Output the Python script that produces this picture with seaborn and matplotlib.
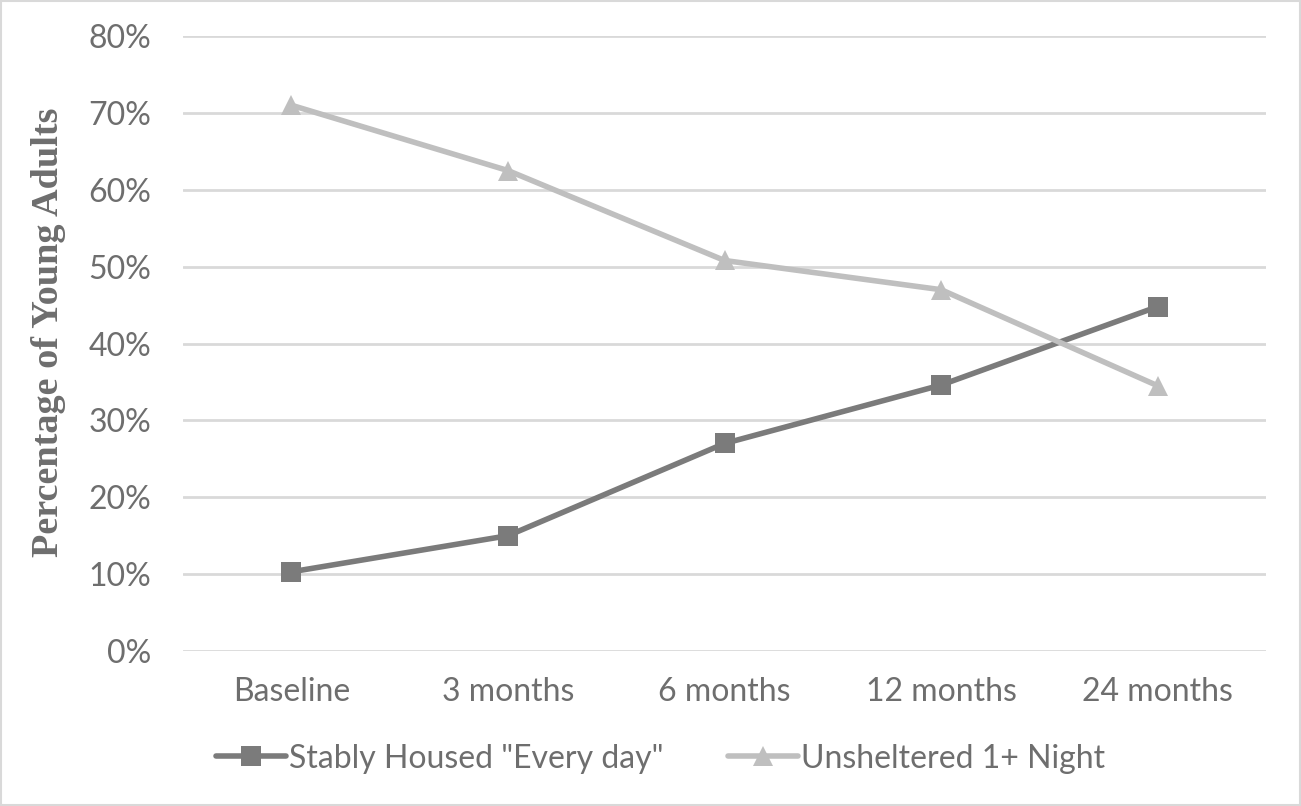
import matplotlib
matplotlib.use("Agg")
import matplotlib.pyplot as plt
import seaborn as sns
import pandas as pd
from matplotlib.patches import Rectangle
from matplotlib.ticker import FuncFormatter

categories = ["Baseline", "3 months", "6 months", "12 months", "24 months"]
stably_housed = [10.3, 15.0, 27.0, 34.6, 44.8]
unsheltered = [71.0, 62.5, 50.8, 47.0, 34.5]
series_names = ['Stably Housed "Every day"', "Unsheltered 1+ Night"]
y_ticks = [0, 10, 20, 30, 40, 50, 60, 70, 80]

sns.set_theme(style="white")
plt.rcParams["font.family"] = ["Lato", "DejaVu Sans"]

df = pd.DataFrame({
    "time": categories * 2,
    "pct": stably_housed + unsheltered,
    "series": [series_names[0]] * 5 + [series_names[1]] * 5,
})
df["x"] = list(range(5)) * 2

fig = plt.figure(figsize=(13.01, 8.06), dpi=100)
ax = fig.add_axes([0.1407, 0.1923, 0.8324, 0.7630])

text_color = "#6e6e6e"
sns.lineplot(data=df, x="x", y="pct", hue="series", style="series",
             palette=["#7b7b7b", "#bfbfbf"], markers=["s", "^"], dashes=False,
             linewidth=4.0, markersize=15, markeredgewidth=0, ax=ax, sort=False)

ax.set_xlim(-0.5, 4.5)
ax.set_ylim(0, 80)
ax.set_yticks(y_ticks)
ax.yaxis.set_major_formatter(FuncFormatter(lambda v, p: f"{int(v)}%"))
ax.set_xticks(range(5))
ax.set_xticklabels(categories)
ax.grid(axis="y", color="#d9d9d9", linewidth=2)
ax.set_axisbelow(True)
for s in ax.spines.values():
    s.set_visible(False)
ax.tick_params(axis="both", length=0, labelsize=23, colors=text_color)
ax.tick_params(axis="y", pad=23)
ax.tick_params(axis="x", pad=19)
ax.set_xlabel("")
ax.set_ylabel("Percentage of Young Adults", family="Liberation Serif",
              fontweight="bold", fontsize=27.5, color=text_color, labelpad=16)
ax.yaxis.label.set_y(0.518)

handles, labels = ax.get_legend_handles_labels()
ax.legend(handles, labels, loc="center", bbox_to_anchor=(0.441, -0.175),
          ncol=2, frameon=False, fontsize=23, labelcolor=text_color,
          handlelength=2.2, handletextpad=0.1, columnspacing=2.0)

fig.patches.append(Rectangle((0.001, 0.001), 0.998, 0.998, transform=fig.transFigure,
                             fill=False, edgecolor="#d9d9d9", linewidth=1.5))

fig.savefig("out.png", dpi=100)
